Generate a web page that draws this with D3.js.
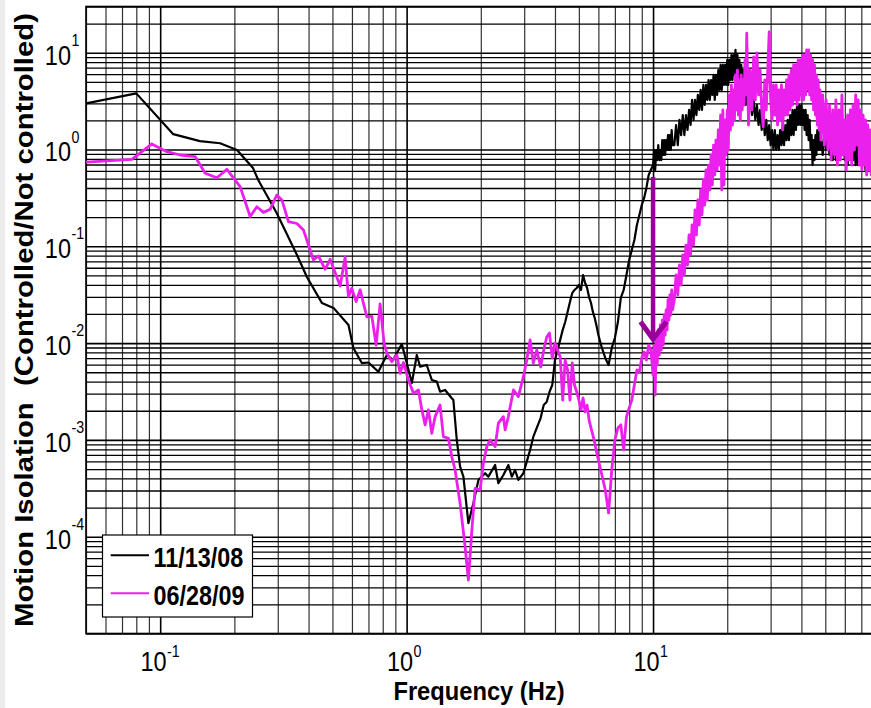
<!DOCTYPE html>
<html><head><meta charset="utf-8">
<script src="https://cdn.jsdelivr.net/npm/d3@7"></script>
<style>html,body{margin:0;padding:0;background:#fff}svg{display:block}</style>
</head><body>
<svg id="chart" width="871" height="708"></svg>
<script>
// ---------------- data ----------------
const seriesNames = ["11/13/08", "06/28/09"];
const seriesColors = ["#000000", "#ec20ec"];

// 11/13/08 low-frequency part
const freqLowA = [0.05,0.08,0.113,0.145,0.175,0.205,0.238,0.25,0.297,0.359,0.394,0.453,0.505,0.581,0.608,0.658,0.70,0.768,0.831,0.881,0.956,1.002,1.05,1.10,1.134,1.207,1.265,1.326,1.367,1.433,1.525,1.548,1.598,1.648,1.70,1.781,1.866,1.956,2.082,2.147,2.286,2.357,2.47,2.588,2.672,2.755,2.841,2.977,3.073,3.17,3.268];
const valLowA = [3.0,3.8,1.44,1.22,1.16,0.99,0.643,0.484,0.221,0.0813,0.0482,0.026,0.0231,0.0154,0.0089,0.00622,0.0063,0.00506,0.00754,0.00669,0.00978,0.0062,0.00387,0.00754,0.0057,0.00594,0.00416,0.0040,0.00315,0.00328,0.00269,0.00258,0.000998,0.00053,0.000417,0.000138,0.000222,0.000386,0.000452,0.000417,0.000551,0.000357,0.000434,0.000551,0.000417,0.000489,0.000386,0.000452,0.000596,0.000787,0.00108];

// 06/28/09 low-frequency part
const freqLowB = [0.05,0.0768,0.0925,0.1065,0.1205,0.1387,0.1523,0.1698,0.1865,0.2111,0.2318,0.2468,0.2624,0.2794,0.2973,0.3118,0.3315,0.3585,0.3815,0.406,0.4187,0.4387,0.467,0.4894,0.5373,0.5629,0.5806,0.599,0.6238,0.6477,0.6894,0.7225,0.7521,0.7807,0.8103,0.8312,0.871,0.9125,0.941,0.9705,1.017,1.066,1.117,1.153,1.189,1.226,1.265,1.305,1.367,1.41,1.478,1.525,1.573,1.648,1.727,1.781,1.838,1.896,1.987,2.049,2.115,2.182,2.286,2.357,2.47,2.51,2.588,2.713,2.841,2.977,3.073,3.17,3.268,3.374];
const valLowB = [0.74,0.79,1.14,0.95,0.877,0.842,0.568,0.511,0.624,0.413,0.203,0.256,0.224,0.241,0.339,0.301,0.180,0.172,0.147,0.0916,0.0722,0.0794,0.0579,0.0734,0.0389,0.077,0.0302,0.0368,0.0268,0.0354,0.0187,0.019,0.00955,0.0254,0.00994,0.00785,0.00643,0.00754,0.00487,0.0063,0.00416,0.00303,0.00328,0.00204,0.00143,0.00204,0.00117,0.00174,0.00229,0.00108,0.00104,0.00067,0.000489,0.000222,0.0000788,0.0000357,0.000113,0.000316,0.000304,0.000573,0.00085,0.000998,0.00085,0.00149,0.00174,0.00127,0.00174,0.00328,0.0028,0.0045,0.00669,0.0108,0.00619,0.00849];

// shared high-frequency grid (Hz)
const freqHi = [
3.5,3.6,3.7,3.8,3.9,4.0,4.1,4.2,4.3,4.4,4.5,4.6,4.7,4.8,4.9,5.0,5.1,5.2,5.3,5.4,5.5,5.6,5.7,5.8,5.9,6.0,
6.2,6.4,6.6,6.8,7.0,7.2,7.4,7.6,7.8,8.0,8.2,8.4,8.6,8.8,9.0,9.2,9.4,9.6,9.8,
10.0,10.1,10.2,10.3,10.4,10.5,10.6,10.7,10.8,10.9,11.0,11.1,11.2,11.3,11.4,11.5,11.6,11.7,11.8,11.9,12.0,
12.2,12.4,12.6,12.8,13.0,13.2,13.4,13.6,13.8,14.0,14.2,14.4,14.6,14.8,15.0,15.2,15.4,15.6,15.8,16.0,16.2,16.4,16.6,16.8,17.0,17.2,17.4,17.6,17.8,18.0,18.2,18.4,18.6,18.8,19.0,19.2,19.4,19.6,19.8,20.0,20.2,20.4,20.6,20.8,21.0,21.2,21.4,21.6,21.8,22.0,22.2,22.4,22.6,22.8,23.0,23.2,23.4,23.6,23.8,24.0,
24.4,24.8,25.2,25.6,26.0,26.4,26.8,27.2,27.6,28.0,28.4,28.8,29.2,29.6,30.0,30.4,30.8,31.2,31.6,32.0,32.4,32.8,33.2,33.6,34.0,34.4,34.8,35.2,35.6,36.0,36.4,36.8,37.2,37.6,38.0,38.4,38.8,39.2,39.6,40.0,40.4,40.8,41.2,41.6,42.0,42.4,42.8,43.2,43.6,44.0,44.4,44.8,45.2,45.6,46.0,46.4,46.8,47.2,47.6,48.0,
48.8,49.6,50.4,51.2,52.0,52.8,53.6,54.4,55.2,56.0,56.8,57.6,58.4,59.2,60.0,60.8,61.6,62.4,63.2,64.0,64.8,65.6,66.4,67.2,68.0,68.8,69.6,70.4,71.2,72.0,72.8,73.6,74.4,75.2,76.0,76.8,77.6,78.4,79.2,80.0];

const valHiA = [
0.00169,0.00229,0.00246,0.00313,0.00369,0.00669,0.00849,0.0108,0.0137,0.0165,0.0210,0.0266,0.0329,0.0354,0.0371,0.0398,0.0354,0.0505,0.0418,0.0371,0.0299,0.0260,0.0210,0.0181,0.0150,0.0121,
0.00891,0.00702,0.00594,0.00891,0.0113,0.0165,0.0293,0.0354,0.0505,0.0722,0.0916,0.116,0.166,0.211,0.267,0.316,0.401,0.545,0.614,
0.691,0.988,0.614,0.988,0.778,1.11,0.778,0.988,0.778,1.25,0.877,1.25,0.877,1.25,0.988,1.41,0.988,1.41,0.988,1.59,1.11,
1.11,1.79,1.11,2.02,1.41,2.27,1.41,2.27,1.59,2.56,1.79,3.25,2.02,3.25,2.27,3.66,2.56,4.12,2.56,4.64,
2.88,4.64,3.25,5.22,3.25,5.22,3.66,5.89,3.25,5.89,3.66,6.62,4.12,7.47,4.12,7.47,4.64,7.47,4.64,8.41,
4.64,8.41,5.22,9.47,5.22,9.47,5.89,10.7,5.89,9.47,5.22,8.41,4.64,7.47,4.12,6.62,3.66,5.22,2.88,4.64,
2.56,3.66,2.27,3.25,2.02,2.88,1.79,2.56,1.59,2.27,1.41,2.02,1.25,1.79,1.11,1.59,0.988,1.59,0.988,1.41,
0.988,1.59,1.11,1.79,1.11,1.79,1.25,2.02,1.25,2.27,1.41,2.56,1.41,2.56,1.59,2.88,1.79,2.88,1.79,2.88,
1.79,2.56,1.59,2.56,1.41,2.27,1.25,2.02,0.988,1.41,0.691,1.25,0.778,1.41,0.877,1.59,0.988,1.59,0.988,1.41,
0.877,1.41,0.988,1.41,0.877,1.25,0.778,1.25,0.778,1.11,0.778,1.25,0.877,1.25,0.778,1.11,0.691,1.11,0.778,1.25,
0.778,1.11,0.691,1.11,0.691,1.25,0.778,1.11,0.778,0.988,0.614,0.988,0.691,0.988,0.691,0.877,0.778,0.988,0.691,0.778];

const valHiB = [
0.00566,0.00849,0.0115,0.0127,0.00702,0.0100,0.00849,0.00719,0.00258,0.00669,0.00527,0.00258,0.00623,0.00369,0.00313,0.00258,0.00204,0.00271,0.00195,0.00229,0.00161,0.00133,0.00112,0.00093,0.00075,0.00062,
0.000434,0.000304,0.000176,0.000489,0.000998,0.00133,0.00143,0.000787,0.00173,0.00214,0.00258,0.00369,0.00527,0.00503,0.00702,0.0081,0.00669,0.00955,0.00849,
0.00468,0.00955,0.00291,0.0108,0.00594,0.0137,0.00754,0.0154,0.00849,0.0173,0.00955,0.0195,0.0121,0.0220,0.0137,0.0279,0.0173,0.0314,0.0195,0.0354,0.0220,
0.0279,0.0505,0.0314,0.0641,0.0398,0.0813,0.0505,0.103,0.0641,0.131,0.0813,0.166,0.103,0.237,0.131,0.301,0.166,0.382,0.211,0.484,
0.267,0.614,0.301,0.691,0.382,0.877,0.430,1.11,0.545,1.25,0.614,1.59,0.691,2.27,0.382,2.56,0.430,2.02,0.877,2.56,
0.988,3.66,1.59,4.64,1.79,4.12,2.02,5.89,2.56,6.62,2.27,5.22,2.02,5.89,2.56,5.22,2.88,8.41,3.66,15.9,
1.79,6.62,2.56,9.03,3.25,9.93,3.66,6.62,2.56,1.71,5.22,2.56,6.62,16.4,3.25,2.02,4.64,2.27,4.64,1.79,
4.12,2.02,4.64,1.59,4.12,2.27,5.22,2.27,5.89,2.56,6.62,2.88,7.47,3.25,7.47,2.88,8.41,3.25,8.41,3.66,
9.47,3.25,9.47,3.66,10.7,4.12,10.7,3.66,9.47,3.25,8.41,2.56,7.47,2.27,5.89,1.79,5.22,1.59,4.12,1.25,
3.66,1.11,3.25,0.988,2.88,0.778,2.56,0.877,3.25,0.691,2.56,0.778,3.66,0.877,2.02,0.614,2.27,0.778,2.56,0.691,
2.88,0.988,3.66,1.11,3.25,0.691,2.56,0.614,2.27,0.691,2.02,0.545,1.79,0.614,1.59,0.545,1.25,0.614,1.11,0.545];

const xLabelExponents = [-1, 0, 1];
const yLabelExponents = [1, 0, -1, -2, -3, -4];
const xTitle = "Frequency (Hz)";
const yTitle = "Motion Isolation  (Controlled/Not controlled)";
// annotation arrow (at 10 Hz, from 0.52 down to 0.011)
const arrowFreq = 10, arrowFrom = 0.52, arrowTo = 0.011, arrowHeadTop = 0.0166;

// ---------------- drawing ----------------
const svg = d3.select("#chart");
const L = 86, R = 875.6, T = 6.5, B = 633.5;
const x = d3.scaleLog().domain([0.05, 80]).range([L, R]);
const y = d3.scaleLog().domain([1e-5, 30]).range([B, T]);
const FONT = "'Liberation Sans', Arial, Helvetica, sans-serif";

svg.append("rect").attr("x",0).attr("y",0).attr("width",871).attr("height",708).attr("fill","#fff");
svg.append("rect").attr("x",0).attr("y",0).attr("width",5).attr("height",708).attr("fill","#ebebeb");

const isMajor = v => Math.abs(Math.log10(v) - Math.round(Math.log10(v))) < 1e-9;

// vertical grid
const gx = svg.append("g").attr("transform", `translate(0,${B})`)
  .call(d3.axisBottom(x).tickValues(x.ticks()).tickSize(-(B - T)).tickFormat(""));
gx.select(".domain").remove();
gx.selectAll(".tick line").attr("stroke", d => isMajor(d) ? "#000" : "#333")
  .attr("stroke-width", d => isMajor(d) ? 1.6 : 1.2);

// horizontal grid
const gy = svg.append("g").attr("transform", `translate(${L},0)`)
  .call(d3.axisLeft(y).tickValues(y.ticks()).tickSize(-(R - L)).tickFormat(""));
gy.select(".domain").remove();
gy.selectAll(".tick line").attr("stroke", "#000").attr("stroke-width", d => isMajor(d) ? 1.6 : 1.3);

// frame
svg.append("rect").attr("x", L).attr("y", T).attr("width", R - L).attr("height", B - T)
  .attr("fill", "none").attr("stroke", "#000").attr("stroke-width", 1.6);

// clip
svg.append("clipPath").attr("id", "clip").append("rect")
  .attr("x", L).attr("y", T).attr("width", R - L).attr("height", B - T);

const line = d3.line().x(d => x(d[0])).y(d => y(d[1]));
const seriesA = freqLowA.map((f, i) => [f, valLowA[i]]).concat(freqHi.map((f, i) => [f, valHiA[i]])).filter(d => d[1] > 0);
const seriesB = freqLowB.map((f, i) => [f, valLowB[i]]).concat(freqHi.map((f, i) => [f, valHiB[i]])).filter(d => d[1] > 0);
const plot = svg.append("g").attr("clip-path", "url(#clip)");
plot.append("path").attr("d", line(seriesA)).attr("fill", "none")
  .attr("stroke", seriesColors[0]).attr("stroke-width", 2.2).attr("stroke-linejoin", "round");
plot.append("path").attr("d", line(seriesB)).attr("fill", "none")
  .attr("stroke", seriesColors[1]).attr("stroke-width", 2.8).attr("stroke-linejoin", "round");

// arrow
const ax = x(arrowFreq);
plot.append("line").attr("x1", ax).attr("x2", ax).attr("y1", y(arrowFrom)).attr("y2", y(arrowTo) - 3)
  .attr("stroke", "#990099").attr("stroke-width", 4.5);
plot.append("path")
  .attr("d", `M${ax - 12.5},${y(arrowHeadTop)} L${ax},${y(arrowTo)} L${ax + 13.5},${y(arrowHeadTop)}`)
  .attr("fill", "none").attr("stroke", "#990099").attr("stroke-width", 5).attr("stroke-linejoin", "miter");

// tick labels x
xLabelExponents.forEach(e => {
  const g = svg.append("g").attr("transform", `translate(${x(Math.pow(10, e)) + 6.5},670.5) scale(0.84,1)`);
  g.append("text").attr("text-anchor", "end").attr("font-family", FONT).attr("font-size", 28).attr("fill", "#000").text("10");
  g.append("text").attr("x", 0.5).attr("y", -13.5).attr("text-anchor", "start").attr("font-family", FONT).attr("font-size", 17).attr("fill", "#000").text(String(e));
});
// tick labels y
yLabelExponents.forEach(e => {
  const g = svg.append("g").attr("transform", `translate(71,${y(Math.pow(10, e)) + 12}) scale(0.84,1)`);
  g.append("text").attr("text-anchor", "end").attr("font-family", FONT).attr("font-size", 28).attr("fill", "#000").text("10");
  g.append("text").attr("x", 0.5).attr("y", -19).attr("text-anchor", "start").attr("font-family", FONT).attr("font-size", 17).attr("fill", "#000").text(String(e));
});

// titles
svg.append("g").attr("transform", "translate(479,700) scale(0.93,1)")
  .append("text").attr("text-anchor", "middle").attr("font-family", FONT).attr("font-weight", "bold")
  .attr("font-size", 25.5).attr("fill", "#000").text(xTitle);
svg.append("text").attr("transform", "translate(33.3,320) rotate(-90)")
  .attr("text-anchor", "middle").attr("font-family", FONT).attr("font-weight", "bold")
  .attr("font-size", 25.5).attr("fill", "#000").attr("textLength", 614).attr("lengthAdjust", "spacingAndGlyphs")
  .attr("xml:space", "preserve").style("white-space", "pre").text(yTitle);

// legend
const leg = svg.append("g");
leg.append("rect").attr("x", 102.5).attr("y", 535).attr("width", 150).attr("height", 82)
  .attr("fill", "#fff").attr("stroke", "#000").attr("stroke-width", 1.2);
seriesNames.forEach((name, i) => {
  const ly = 555.3 + i * 38;
  leg.append("line").attr("x1", 110.7).attr("x2", 149).attr("y1", ly).attr("y2", ly)
    .attr("stroke", seriesColors[i]).attr("stroke-width", 2);
  leg.append("g").attr("transform", `translate(153.5,${ly + 11.5}) scale(0.835,1)`)
    .append("text").attr("font-family", FONT).attr("font-weight", "bold").attr("font-size", 28)
    .attr("fill", "#000").text(name);
});
</script>
</body></html>
